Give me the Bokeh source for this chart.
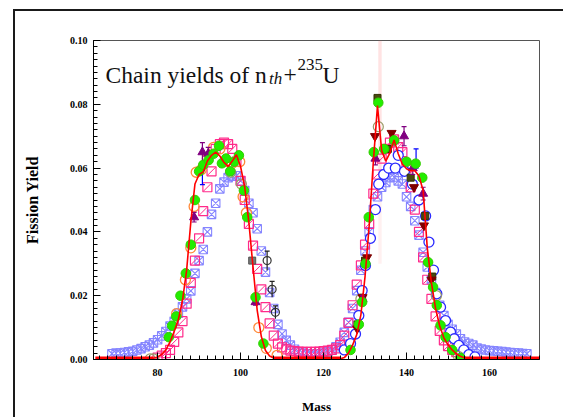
import numpy as np
from bokeh.plotting import figure
from bokeh.models import Label, FixedTicker, PrintfTickFormatter, Range1d
from bokeh.embed import file_html
from bokeh.resources import INLINE

# ---------------- data ----------------
# evaluation (red line)
eval_mass = list(range(65, 173))
eval_yield = [
    0, 0, 0, 0, 0, 0, 0, 0, 0, 0,
    0, 0.0001, 0.0001, 0.0002, 0.0004,
    0.0008, 0.0016, 0.003, 0.0055, 0.0088,
    0.0125, 0.0185, 0.028, 0.043, 0.055,
    0.058, 0.0588, 0.0622, 0.064, 0.065,
    0.0638, 0.0618, 0.0605, 0.0622, 0.0642,
    0.0605, 0.054, 0.043, 0.029, 0.0155,
    0.0072, 0.0028, 0.0011, 0.0005, 0.0002,
    0.0001, 0.0001, 0.0001, 0.0001, 0.0001, 0.0001, 0.0001,
    0.0001, 0.0001, 0.0001, 0.0001, 0.0001, 0.0001, 0.0001,
    0.0002, 0.0006, 0.002, 0.0045, 0.0078,
    0.014, 0.026, 0.042, 0.062, 0.0796,
    0.0655, 0.0622, 0.0648, 0.0688, 0.0645,
    0.0612, 0.0598, 0.0592, 0.0592, 0.0575,
    0.053, 0.035, 0.024, 0.016, 0.0105,
    0.0068, 0.0046, 0.003, 0.0018, 0.001,
    0.0005, 0.0002, 0.0001,
    0, 0, 0, 0, 0, 0, 0, 0, 0, 0, 0, 0, 0, 0, 0, 0,
]

# light-blue crossed squares
lb_mass = list(range(69, 170))
lb_yield = [
    0.0018, 0.002, 0.002, 0.0022, 0.0024, 0.0026, 0.003, 0.0034, 0.004, 0.0045,
    0.0052, 0.0062, 0.0074, 0.0088, 0.0105, 0.012, 0.0145, 0.0165, 0.019, 0.0215,
    0.027, 0.031, 0.0345, 0.040, 0.0455, 0.049, 0.0535, 0.0556, 0.057, 0.0575,
    0.0576, 0.056, 0.053, 0.049, 0.046, 0.041, 0.034, 0.0274, 0.021, 0.016,
    0.011, 0.008, 0.006, 0.0045, 0.0032, 0.0024, 0.002, 0.0018, 0.0017, 0.0017,
    0.0018, 0.002, 0.0024, 0.003, 0.004, 0.0054, 0.0085, 0.0117, 0.016, 0.0216,
    0.028, 0.034, 0.040, 0.047, 0.051, 0.054, 0.0555, 0.057, 0.0572, 0.056,
    0.055, 0.051, 0.048, 0.0435, 0.039, 0.0336, 0.029, 0.025, 0.021, 0.017,
    0.0138, 0.011, 0.0095, 0.008, 0.0065, 0.0055, 0.005, 0.0045, 0.0036, 0.0033,
    0.003, 0.0028, 0.0027, 0.0026, 0.0025, 0.0023, 0.0022, 0.0021, 0.002, 0.0019,
    0.0018,
]

# pink slashed squares
pink_mass = list(range(80, 156))
pink_yield = [
    0.0006, 0.0012, 0.002, 0.003, 0.0055, 0.0085, 0.012, 0.0175, 0.024, 0.031,
    0.038, 0.0465, 0.054, 0.059, 0.066, 0.0675, 0.068, 0.0675, 0.066, 0.062,
    0.056, 0.050, 0.0425, 0.0357, 0.0284, 0.022, 0.0164, 0.0113, 0.0075, 0.005,
    0.0038, 0.0032, 0.0028, 0.0026, 0.0025, 0.0024, 0.0024, 0.0024, 0.0024, 0.0025,
    0.0026, 0.0028, 0.003, 0.0035, 0.0045, 0.0075, 0.0115, 0.017, 0.0235, 0.0295,
    0.036, 0.0425, 0.052, 0.058, 0.063, 0.066, 0.068, 0.069, 0.0666, 0.065,
    0.060, 0.054, 0.047, 0.040, 0.032, 0.025, 0.019, 0.0135, 0.009, 0.006,
    0.0042, 0.003, 0.0023, 0.0018, 0.0012, 0.0008,
]

# blue open circles (heavy peak)
bc_mass = [125, 126.5, 127.7, 128.5, 129.3, 130.1, 131.3, 132.5, 133.3, 134.5,
           135.7, 137.3, 138.0, 139.5, 141.4, 143.0, 144.6, 145.4, 146.5, 147.3,
           148.2, 149.4, 150.6, 151.5, 152.6, 153.8, 155.0, 156.5]
bc_yield = [0.003, 0.005, 0.008, 0.0138, 0.0216, 0.0295, 0.038, 0.047, 0.055, 0.058,
            0.060, 0.060, 0.064, 0.059, 0.055, 0.050, 0.045, 0.0368, 0.028, 0.0206,
            0.0164, 0.0122, 0.0086, 0.0065, 0.0044, 0.003, 0.0015, 0.0008]

# orange open circles
or_mass = [84.6, 86.7, 88.0, 88.8, 89.3, 90.5, 92.0, 93.5, 95.0, 96.5,
           98.0, 99.8, 100.6, 101.4, 104.4, 106.2, 108.8]
or_yield = [0.0144, 0.025, 0.035, 0.048, 0.0587, 0.0595, 0.063, 0.0665, 0.066, 0.062,
            0.0615, 0.062, 0.051, 0.046, 0.010, 0.0035, 0.0013]

# olive open circles
ol_mass = [78.2, 79.0, 97.6, 100.2, 129.0, 133.2, 147.2, 152.5]
ol_yield = [0.0002, 0.0002, 0.0587, 0.055, 0.019, 0.073, 0.020, 0.001]

# green filled circles
gr_mass = [82.7, 83.5, 84.5, 85.5, 86.8, 88.0, 89.0, 90.0, 91.0, 92.3,
           93.5, 94.8, 95.5, 96.5, 97.5, 98.5, 99.6, 100.8, 101.6, 103.6,
           105.5, 126.5, 128.5, 129.3, 130.1, 130.9, 132.1, 133.2, 134.6, 137.0,
           140.0, 142.2, 143.8, 145.2, 146.4, 147.3, 148.2, 149.4, 151.0, 153.0]
gr_yield = [0.007, 0.0106, 0.0135, 0.020, 0.027, 0.036, 0.050, 0.059, 0.061, 0.0625,
            0.0645, 0.067, 0.0615, 0.063, 0.059, 0.062, 0.064, 0.053, 0.0446, 0.0195,
            0.005, 0.003, 0.011, 0.018, 0.030, 0.0446, 0.065, 0.0805, 0.066, 0.0687,
            0.062, 0.0614, 0.057, 0.0305, 0.0227, 0.017, 0.0107, 0.007, 0.003, 0.0005]

# dark olive squares
do_mass = [128.2, 130.0, 133.0, 135.5, 141.0, 144.5, 146.2]
do_yield = [0.011, 0.031, 0.082, 0.066, 0.057, 0.045, 0.026]

# dark red inverted triangles
dr_mass = [128.1, 129.4, 130.5, 132.4, 136.4, 141.8, 144.2, 146.0]
dr_yield = [0.0097, 0.0195, 0.032, 0.070, 0.071, 0.054, 0.042, 0.025]

# purple triangles with errors
pu_mass = [88.8, 90.8, 92.2, 103.6, 129.4, 132.5, 139.4, 141.5, 144.0]
pu_yield = [0.0446, 0.065, 0.0645, 0.018, 0.019, 0.063, 0.070, 0.060, 0.052]
pu_err = [0.0015, 0.003, 0.002, 0.001, 0.001, 0.002, 0.003, 0.002, 0.002]

# blue error bars
be_mass = [90.8, 142.3]
be_yield = [0.057, 0.063]
be_err = [0.0022, 0.003]

# black open circles with errors
bk_mass = [106.4, 107.6, 108.4]
bk_yield = [0.031, 0.022, 0.0148]
bk_err = [0.003, 0.0025, 0.002]

# grey square
gs_mass = [102.8]
gs_yield = [0.031]

# pink band at mass 133.6
band_left, band_right = [133.2], [134.0]
band_bottom, band_top = [0.03], [0.10]

x_ticks = [80, 100, 120, 140, 160]
y_ticks = [0.0, 0.02, 0.04, 0.06, 0.08, 0.10]

# ---------------- figure ----------------
OFF_X, OFF_Y, BW = 13, 9, 2          # page offset of the outer frame + its width
XMIN, XMAX = 64.55, 172.05
YMIN, YMAX = 0.0, 0.10
FL, FR, FT, FB = 93, 539, 40, 359     # frame in page pixels
W, H = 565, 419                       # page size
CX, CY = OFF_X + BW, OFF_Y + BW       # canvas origin in page pixels
CW, CH = W - CX, H - CY

p = figure(width=CW, height=CH, output_backend="svg", toolbar_location=None,
           x_range=Range1d(XMIN, XMAX), y_range=Range1d(YMIN, YMAX),
           min_border_left=FL - CX, min_border_right=W - FR,
           min_border_top=FT - CY, min_border_bottom=H - FB)
p.styles = {"margin-left": f"{OFF_X}px", "margin-top": f"{OFF_Y}px",
            "border-left": f"{BW}px solid #1a1a1a", "border-top": f"{BW}px solid #1a1a1a"}
p.background_fill_color = "white"
p.border_fill_color = "white"
p.xgrid.visible = False
p.ygrid.visible = False
p.outline_line_color = "#555555"
p.outline_line_width = 1

def px_x(px):
    return XMIN + (px - FL) * (XMAX - XMIN) / (FR - FL)

def px_y(py):
    return YMIN + (FB - py) * (YMAX - YMIN) / (FB - FT)

SERIF = "Liberation Serif"

p.xaxis.ticker = FixedTicker(ticks=x_ticks, minor_ticks=list(np.arange(66, 173, 2)))
p.yaxis.ticker = FixedTicker(ticks=y_ticks, minor_ticks=list(np.round(np.arange(0, 0.1001, 0.002), 4)))
p.yaxis.formatter = PrintfTickFormatter(format="%.2f")
for ax in (p.xaxis, p.yaxis):
    ax.axis_line_color = "black"
    ax.major_tick_in = 7
    ax.major_tick_out = 0
    ax.minor_tick_in = 4
    ax.minor_tick_out = 0
    ax.major_tick_line_color = "black"
    ax.minor_tick_line_color = "black"
    ax.major_label_text_font = SERIF
    ax.major_label_text_font_style = "bold"
    ax.major_label_text_color = "black"
    ax.axis_label_text_font = SERIF
    ax.axis_label_text_font_style = "bold"
    ax.axis_label_text_color = "black"
p.xaxis.major_label_text_font_size = "10px"
p.yaxis.major_label_text_font_size = "10px"
p.xaxis.major_label_standoff = 9
p.yaxis.major_label_standoff = 6
p.xaxis.axis_label = "Mass"
p.yaxis.axis_label = "Fission Yield"
p.xaxis.axis_label_text_font_size = "13px"
p.yaxis.axis_label_text_font_size = "16px"
p.xaxis.axis_label_standoff = 20
p.yaxis.axis_label_standoff = 26

# pink band
p.quad(left=band_left, right=band_right, bottom=band_bottom, top=band_top,
       fill_color="#ff9999", fill_alpha=0.15, line_color=None)
p.quad(left=band_left, right=band_right, bottom=[0.058], top=[0.10],
       fill_color="#ff8888", fill_alpha=0.12, line_color=None)

# series
p.scatter(lb_mass, lb_yield, marker="square_x", size=8.5, fill_color=None,
          line_color="#8585ff", line_width=1.1)
p.scatter(pink_mass, pink_yield, marker="square", size=9, fill_color=None,
          line_color="#ff2a8a", line_width=1.2)
p.scatter(pink_mass, pink_yield, marker="dash", size=11, angle=np.pi / 4,
          line_color="#ff2a8a", line_width=1.0)
p.scatter(bc_mass, bc_yield, marker="circle", size=10, fill_color="white",
          line_color="#2a2aff", line_width=1.3)
p.scatter(ol_mass, ol_yield, marker="circle", size=10, fill_color=None,
          line_color="#9a9a66", line_width=1.2)
p.scatter(or_mass, or_yield, marker="circle", size=10, fill_color=None,
          line_color="#ff8a3a", line_width=1.3)
p.scatter(do_mass, do_yield, marker="square", size=7, fill_color="#4a4a10",
          line_color="#333300", line_width=1)
p.scatter(dr_mass, dr_yield, marker="inverted_triangle", size=9, fill_color="#7f0000",
          line_color="#7f0000")
pu_lo = [y - e for y, e in zip(pu_yield, pu_err)]
pu_hi = [y + e for y, e in zip(pu_yield, pu_err)]
p.segment(pu_mass, pu_lo, pu_mass, pu_hi, line_color="#800080", line_width=1.2)
p.scatter(pu_mass, pu_hi, marker="dash", size=5, line_color="#800080", line_width=1.2)
p.scatter(pu_mass, pu_lo, marker="dash", size=5, line_color="#800080", line_width=1.2)
p.scatter(pu_mass, pu_yield, marker="triangle", size=9, fill_color="#800080",
          line_color="#800080")
be_lo = [y - e for y, e in zip(be_yield, be_err)]
be_hi = [y + e for y, e in zip(be_yield, be_err)]
p.segment(be_mass, be_lo, be_mass, be_hi, line_color="#0000ff", line_width=1.2)
p.scatter(be_mass, be_hi, marker="dash", size=5, line_color="#0000ff", line_width=1.2)
p.scatter(be_mass, be_lo, marker="dash", size=5, line_color="#0000ff", line_width=1.2)
p.scatter(gr_mass, gr_yield, marker="circle", size=9.5, fill_color="#22ee00",
          line_color="#33cc00", line_width=1)
bk_lo = [y - e for y, e in zip(bk_yield, bk_err)]
bk_hi = [y + e for y, e in zip(bk_yield, bk_err)]
p.segment(bk_mass, bk_lo, bk_mass, bk_hi, line_color="#222222", line_width=1.2)
p.scatter(bk_mass, bk_hi, marker="dash", size=5, line_color="#222222", line_width=1.2)
p.scatter(bk_mass, bk_yield, marker="circle", size=8, fill_color=None,
          line_color="#333333", line_width=1.2)
p.scatter(gs_mass, gs_yield, marker="square", size=7, fill_color="#777777",
          line_color="#555555")

# evaluation line
ey = np.array(eval_yield, dtype=float)
p.line(eval_mass, eval_yield, line_color="#ff0000", line_width=1.6)
low = np.where(ey <= 0.0005, 0.0, np.nan)
p.line(eval_mass, list(low), line_color="#ff0000", line_width=6)

# title text inside plot
base = px_y(74)
TXT = "#111111"
p.add_layout(Label(x=px_x(105), y=base, text="Chain yields of n", text_font=SERIF,
                   text_font_size="23.5px", text_color=TXT, text_baseline="alphabetic"))
p.add_layout(Label(x=px_x(268.5), y=px_y(78), text="th", text_font=SERIF,
                   text_font_style="italic", text_font_size="17px", text_color=TXT,
                   text_baseline="alphabetic"))
p.add_layout(Label(x=px_x(283), y=base, text="+", text_font=SERIF,
                   text_font_size="23.5px", text_color=TXT, text_baseline="alphabetic"))
p.add_layout(Label(x=px_x(297), y=px_y(64), text="235", text_font=SERIF,
                   text_font_size="17px", text_color=TXT, text_baseline="alphabetic"))
p.add_layout(Label(x=px_x(322), y=base, text="U", text_font=SERIF,
                   text_font_size="23.5px", text_color=TXT, text_baseline="alphabetic"))

open("out.html", "w").write(file_html(p, INLINE))
